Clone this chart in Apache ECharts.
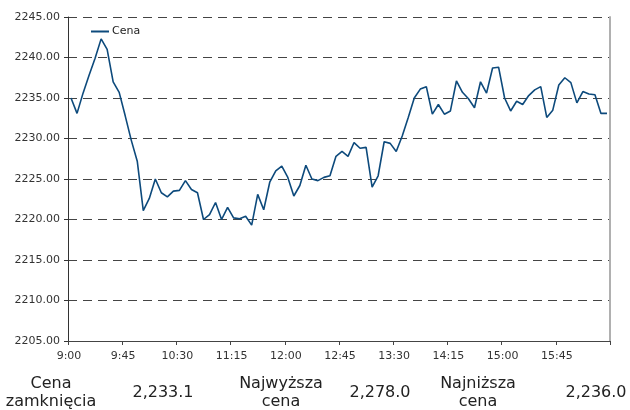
<!DOCTYPE html>
<html>
<head>
<meta charset="utf-8">
<script src="https://cdn.jsdelivr.net/npm/echarts@6/dist/echarts.min.js"></script>
<style>
html,body{margin:0;padding:0;background:#fff;}
#main{width:630px;height:410px;}
</style>
</head>
<body>
<div id="main"></div>
<script>
var categories = ["9:00","9:05","9:10","9:15","9:20","9:25","9:30","9:35","9:40",
"9:45","9:50","9:55","10:00","10:05","10:10","10:15","10:20","10:25",
"10:30","10:35","10:40","10:45","10:50","10:55","11:00","11:05","11:10",
"11:15","11:20","11:25","11:30","11:35","11:40","11:45","11:50","11:55",
"12:00","12:05","12:10","12:15","12:20","12:25","12:30","12:35","12:40",
"12:45","12:50","12:55","13:00","13:05","13:10","13:15","13:20","13:25",
"13:30","13:35","13:40","13:45","13:50","13:55","14:00","14:05","14:10",
"14:15","14:20","14:25","14:30","14:35","14:40","14:45","14:50","14:55",
"15:00","15:05","15:10","15:15","15:20","15:25","15:30","15:35","15:40",
"15:45","15:50","15:55","16:00","16:05","16:10","16:15","16:20","16:25"];

var cena = [2235.0,2233.1,2235.6,2237.8,2239.9,2242.3,2241.0,2237.0,2235.7,
2232.8,2229.8,2227.2,2221.1,2222.6,2225.0,2223.3,2222.8,2223.5,
2223.6,2224.8,2223.7,2223.3,2220.0,2220.6,2222.1,2220.0,2221.5,
2220.2,2220.1,2220.4,2219.3,2223.1,2221.2,2224.6,2226.0,2226.6,
2225.2,2222.9,2224.2,2226.7,2225.0,2224.8,2225.2,2225.4,2227.8,
2228.4,2227.8,2229.5,2228.8,2228.9,2224.0,2225.4,2229.6,2229.4,
2228.4,2230.3,2232.6,2235.0,2236.1,2236.4,2233.0,2234.2,2233.0,
2233.4,2237.1,2235.7,2234.9,2233.8,2237.0,2235.6,2238.7,2238.8,
2235.0,2233.4,2234.6,2234.2,2235.3,2236.0,2236.4,2232.6,2233.5,
2236.6,2237.5,2236.9,2234.4,2235.8,2235.5,2235.4,2233.1,2233.1];

var seriesName = "Cena";
var yMin = 2205, yMax = 2245, yStep = 5;

var summaryLabels = ["Cena\nzamknięcia", "Najwyższa\ncena", "Najniższa\ncena"];
var summaryValues = ["2,233.1", "2,278.0", "2,236.0"];

var FONT = "'DejaVu Sans', Verdana, sans-serif";
var chart = echarts.init(document.getElementById('main'), null, {renderer:'canvas'});

var labelX = [51, 281, 478];
var valueX = [163, 380, 596];
var graphics = [];
for (var i = 0; i < summaryLabels.length; i++) {
  graphics.push({
    type: 'text', x: labelX[i], y: 393,
    style: {text: summaryLabels[i], font: '16px ' + FONT, fill: '#222',
      align: 'center', verticalAlign: 'middle', lineHeight: 18}
  });
  graphics.push({
    type: 'text', x: valueX[i], y: 393,
    style: {text: summaryValues[i], font: '16px ' + FONT, fill: '#222',
      align: 'center', verticalAlign: 'middle'}
  });
}

chart.setOption({
  animation: false,
  backgroundColor: '#fff',
  grid: {left: 68, right: 20, top: 17, bottom: 69, containLabel: false},
  legend: {
    show: true, left: 91, top: 26, padding: 0, itemWidth: 18, itemHeight: 2, itemGap: 4,
    data: [{name: seriesName, icon: 'rect'}],
    textStyle: {fontFamily: FONT, fontSize: 11, color: '#222', padding: [0,0,0,-2]}
  },
  xAxis: {
    type: 'category', data: categories, boundaryGap: true,
    axisLine: {lineStyle: {color: '#444', width: 1}},
    axisTick: {show: true, interval: 8, length: 4, lineStyle: {color: '#444'}},
    axisLabel: {interval: 8, margin: 10, fontFamily: FONT, fontSize: 11, color: '#333',
      padding: [0, 4, 0, 0]},
    splitLine: {show: false}
  },
  yAxis: [{
    type: 'value', min: yMin, max: yMax, interval: yStep,
    axisLine: {show: true, lineStyle: {color: '#333', width: 1}},
    axisTick: {show: true, length: 4, lineStyle: {color: '#333'}},
    axisLabel: {margin: 8, fontFamily: FONT, fontSize: 11, color: '#333',
      formatter: function (v) { return v.toFixed(2); }},
    splitLine: {show: true, lineStyle: {color: '#444', width: 1, type: [9, 6]}}
  }, {
    type: 'value', min: yMin, max: yMax, interval: yStep, position: 'right',
    axisLine: {show: true, lineStyle: {color: '#b0b0b0', width: 2}},
    axisTick: {show: false}, axisLabel: {show: false}, splitLine: {show: false}
  }],
  series: [{
    name: seriesName, type: 'line', data: cena, showSymbol: false, symbol: 'none',
    lineStyle: {color: '#0d4a7c', width: 1.6}, itemStyle: {color: '#0d4a7c'}
  }],
  graphic: graphics
});
</script>
</body>
</html>
